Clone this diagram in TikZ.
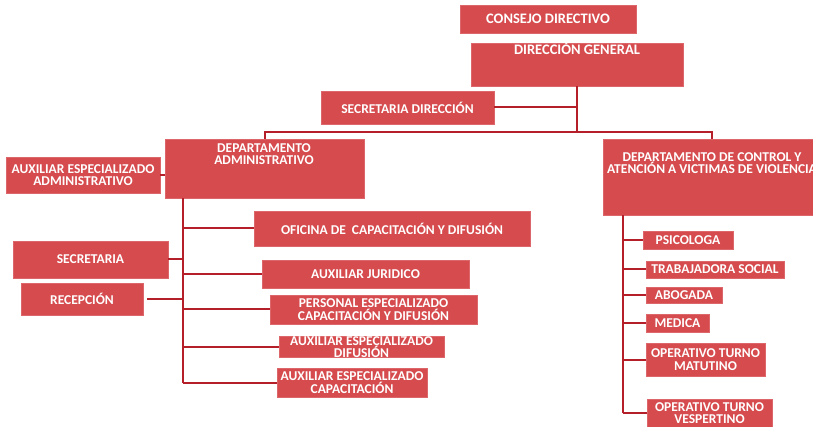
\documentclass[tikz,border=0pt]{standalone}
\usepackage{fontspec}
\setmainfont{Carlito}
\definecolor{boxred}{RGB}{214,75,78}
\definecolor{linered}{RGB}{180,31,42}
\newcommand\bx[6]{\node[box, minimum width={(#4-#2)*1pt}, minimum height={(#5-#3)*1pt}] (#1) at ({(#2+#4)/2},{(#3+#5)/2}) {#6};}
\begin{document}
\begin{tikzpicture}[x=1pt,y=-1pt,
  box/.style={fill=boxred, draw=boxred!85!white, line width=0.6pt, inner sep=0pt, outer sep=0pt,
    text=white, font=\bfseries\fontsize{13.5}{12.5}\selectfont, align=center},
  lbl/.style={text=white, inner sep=0pt, align=center, font=\bfseries\fontsize{13.5}{12.5}\selectfont},
  conn/.style={draw=linered, line width=2pt}]
\clip (0,0) rectangle (813,427);
\fill[white] (0,0) rectangle (813,427);
% top
\bx{cd}{460}{5}{636}{33}{}
\node[lbl, font=\bfseries\fontsize{14.5}{13}\selectfont] (cdt) at (548,19) {CONSEJO DIRECTIVO};
\bx{dg}{471}{43}{683}{86}{}
\node[lbl, font=\bfseries\fontsize{14.5}{13}\selectfont] (dgt) at (577,48) {DIRECCIÓN GENERAL};
\bx{sd}{321}{91}{494}{124}{SECRETARIA DIRECCIÓN}
% departments
\bx{dadm}{165}{139}{364}{198}{}
\node[lbl] (dadmt) at (264,154) {DEPARTAMENTO\\ADMINISTRATIVO};
\bx{dctl}{603}{139}{821}{215}{}
\node[lbl] (dctlt) at (712,163) {DEPARTAMENTO DE CONTROL Y\\ATENCIÓN A VICTIMAS DE VIOLENCIA};
\bx{aea}{6}{157}{160}{193}{AUXILIAR ESPECIALIZADO\\ADMINISTRATIVO}
% left column
\bx{ofi}{254}{211}{530}{246}{OFICINA DE\ \ CAPACITACIÓN Y DIFUSIÓN}
\bx{aj}{262}{260}{469}{288}{AUXILIAR JURIDICO}
\bx{pe}{270}{295}{477}{324}{PERSONAL ESPECIALIZADO\\CAPACITACIÓN Y DIFUSIÓN}
\bx{aed}{279}{337}{444}{357}{AUXILIAR ESPECIALIZADO\\DIFUSIÓN}
\bx{aec}{277}{368}{427}{397}{AUXILIAR ESPECIALIZADO\\CAPACITACIÓN}
\bx{sec}{13}{241}{168}{278}{SECRETARIA}
\bx{rec}{21}{283}{143}{315}{RECEPCIÓN}
% right column
\bx{psi}{643}{231}{733}{249}{PSICOLOGA}
\bx{ts}{646}{261}{784}{278}{TRABAJADORA SOCIAL}
\bx{abo}{646}{287}{722}{303}{ABOGADA}
\bx{med}{646}{314}{709}{332}{MEDICA}
\bx{mat}{646}{343}{765}{376}{OPERATIVO TURNO\\MATUTINO}
\bx{ves}{647}{399}{772}{427}{OPERATIVO TURNO\\VESPERTINO}
% connectors
\coordinate (bus) at (577,132);
\coordinate (lt) at (183,383);
\coordinate (rt) at (623,413);
\draw[conn] (dg.south) -- (bus);
\draw[conn] (dadm.north) |- (bus) -| (dctl.north);
\draw[conn] (sd.east) -- (sd.east -| bus);
\draw[conn] (aea.east) -- (aea.east -| dadm.west);
\draw[conn] (dadm.south -| lt) -- (lt);
\foreach \n in {ofi,aj,pe,aed,aec}{\draw[conn] (\n.west) -- (\n.west -| lt);}
\draw[conn] (sec.east) -- (sec.east -| lt);
\draw[conn] ([xshift=4pt]rec.east) -- (rec.east -| lt);
\draw[conn] (dctl.south -| rt) -- (rt);
\foreach \n in {psi,ts,abo,med,mat,ves}{\draw[conn] (\n.west) -- (\n.west -| rt);}
\end{tikzpicture}
\end{document}
